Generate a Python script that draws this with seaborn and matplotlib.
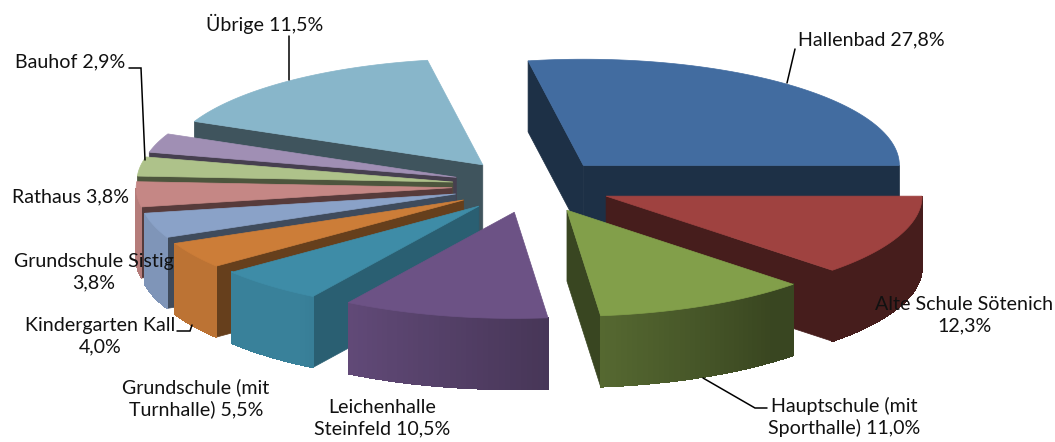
import numpy as np
import matplotlib
matplotlib.use("Agg")
import matplotlib.pyplot as plt
import seaborn as sns

# Anteile wie gezeichnet, Uhrzeigersinn ab Hallenbad (Übrige ist im Bild breiter als beschriftet)
names = ["Hallenbad", "Alte Schule Sötenich", "Hauptschule (mit Sporthalle)", "Leichenhalle Steinfeld",
         "Grundschule (mit Turnhalle)", "Kindergarten Kall", "Grundschule Sistig", "Rathaus",
         "Bauhof", "ohne Beschriftung", "Übrige"]
shares = [27.8, 12.3, 11.0, 10.5, 5.5, 4.0, 3.8, 3.8, 2.9, 2.9, 15.5]

# Beschriftungen
label_texts = ["Hallenbad 27,8%", "Alte Schule Sötenich\n12,3%", "Hauptschule (mit\nSporthalle) 11,0%",
               "Leichenhalle\nSteinfeld 10,5%", "Grundschule (mit\nTurnhalle) 5,5%", "Kindergarten Kall\n4,0%",
               "Grundschule Sistig\n3,8%", "Rathaus 3,8%", "Bauhof 2,9%", "Übrige 11,5%"]
label_x = [871, 964, 844, 382, 196, 100, 94, 70, 70, 265]
label_y = [40, 315, 417, 418, 398, 336, 272, 197, 62, 24]

top_colors = ["#426ca0", "#9f4240", "#829f4a", "#6c5285", "#3e8ca7", "#cc7d38",
              "#8aa2c8", "#c58785", "#aec28a", "#a08fb4", "#88b6ca"]
wall_shades = [0.44, 0.44, 0.44, 0.44, 0.68, 0.5, 0.46, 0.44, 0.44, 0.44, 0.46]

# Geometrie der Torte
cx, cy = 532, 186
radius = 316
squash = 0.336
explode = 80
depth = 71

sns.set_theme(style="white")
plt.rcParams["font.family"] = ["Lato", "DejaVu Sans"]

fig, ax = plt.subplots(figsize=(10.55, 4.42), dpi=100)
ax.set_position([0, 0, 1, 1])
ax.set_xlim(0, 1055)
ax.set_ylim(442, 0)
ax.axis("off")


def shade(color, f):
    return tuple(np.array(sns.desaturate(color, 1.0)) * f)


def rim_shade(a):
    # links heller, rechts dunkler
    return np.clip(0.44 + (a - 50) * 0.48 / 75, 0.44, 0.92)


def rim_point(ax0, ay0, a):
    r = np.radians(a)
    return ax0 + radius * np.cos(r), ay0 + radius * squash * np.sin(r)


def poly(xs, ys, color, z, aa=True):
    ax.fill(xs, ys, facecolor=color, edgecolor=color, linewidth=0.5, zorder=z, antialiased=aa)


# Winkel ab -100 Grad, im Bild im Uhrzeigersinn (y nach unten)
fracs = np.array(shares) / sum(shares) * 360
starts = -fracs[0] + np.concatenate([[0], np.cumsum(fracs)[:-1]])
ends = starts + fracs
mids = (starts + ends) / 2
order = np.argsort(np.sin(np.radians(mids)))

for z, i in enumerate(order):
    a0, a1, color = starts[i], ends[i], top_colors[i]
    m = np.radians(mids[i])
    px = cx + explode * np.cos(m)
    py = cy + explode * squash * np.sin(m)
    base = 10 + z * 3

    # radiale Wände, nur die sichtbaren
    for a, normal in [(a0, a0 - 90), (a1, a1 + 90)]:
        if np.sin(np.radians(normal)) > 0:
            qx, qy = rim_point(px, py, a)
            poly([px, qx, qx, px], [py, qy, qy + depth, py + depth], shade(color, wall_shades[i]), base)

    # Außenwand in Streifen
    steps = np.arange(a0, a1 + 1, 1.0)
    steps[-1] = a1
    for b0, b1 in zip(steps[:-1], steps[1:]):
        if np.sin(np.radians((b0 + b1) / 2)) <= 0:
            continue
        x0, y0 = rim_point(px, py, b0)
        x1, y1 = rim_point(px, py, b1)
        poly([x0, x1, x1, x0], [y0, y1, y1 + depth, y0 + depth],
             shade(color, rim_shade(((b0 + b1) / 2) % 360)), base + 1, aa=False)

    # Deckel
    arc = np.linspace(a0, a1, 80)
    xs, ys = rim_point(px, py, arc)
    poly(np.r_[px, xs], np.r_[py, ys], color, base + 2)

# Führungslinien
leaders = [([787, 795], [83, 49]),
           ([289, 289], [80, 36]),
           ([145, 141, 129], [160, 68, 68]),
           ([177, 190, 192], [331, 331, 325]),
           ([703, 755, 767], [378, 408, 408])]
for lx, ly in leaders:
    ax.plot(lx, ly, color="black", lw=1.1, zorder=60, solid_joinstyle="miter")

for t, x, y in zip(label_texts, label_x, label_y):
    ax.text(x, y, t, ha="center", va="center", fontsize=14.1, color="#111111",
            linespacing=1.3, zorder=70)

fig.savefig("out.png", dpi=100)
